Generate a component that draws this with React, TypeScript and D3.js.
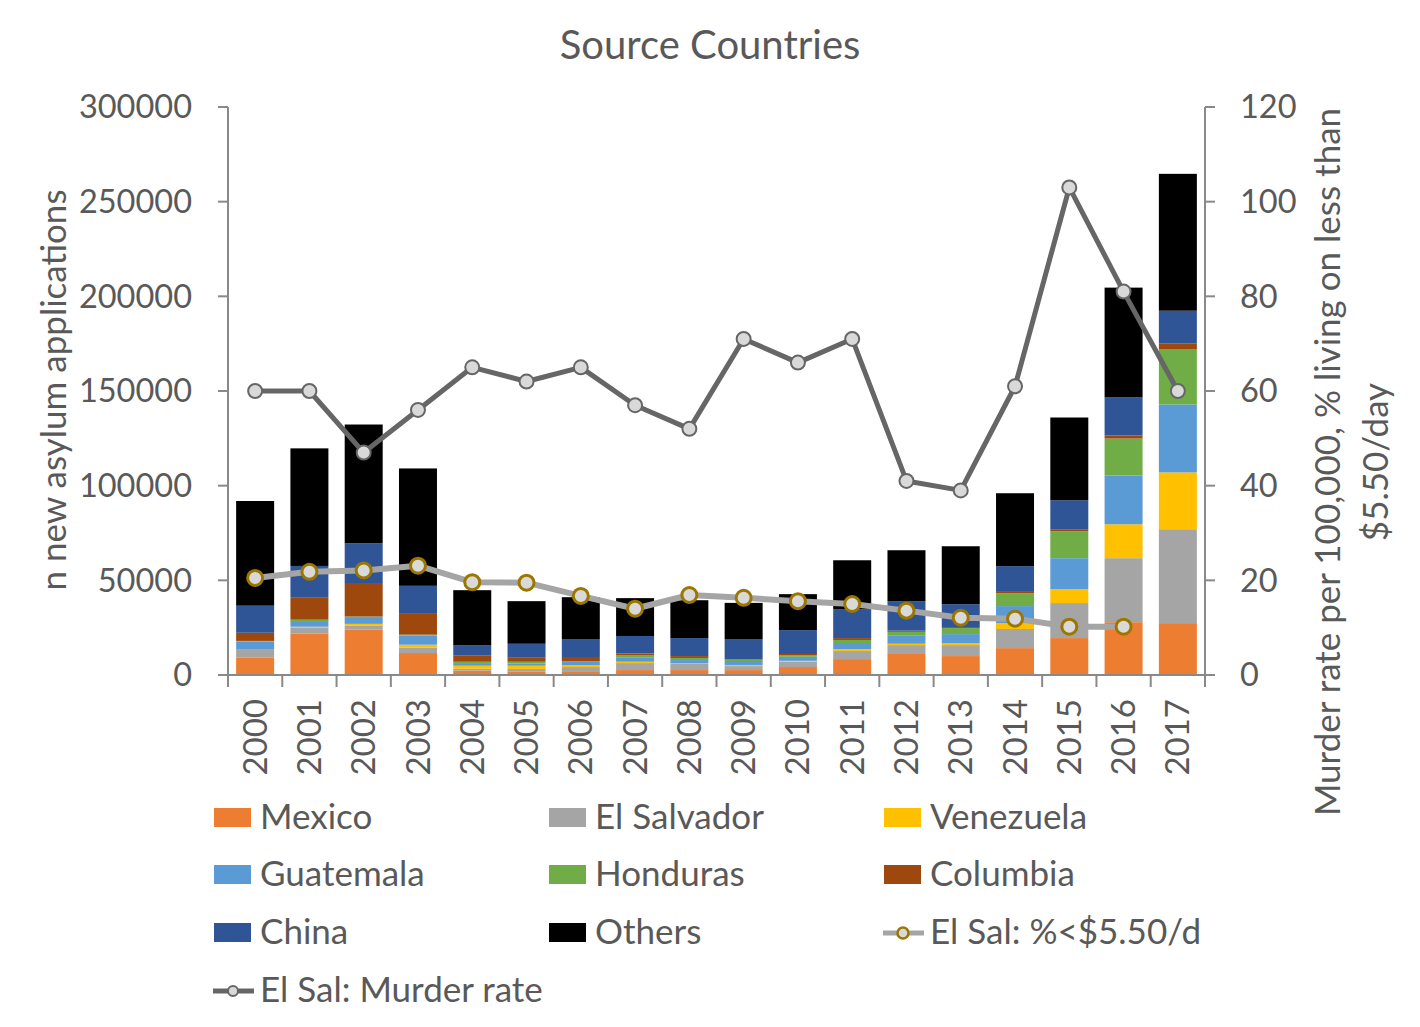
import React from "react";
import * as d3 from "d3";

const years = ["2000","2001","2002","2003","2004","2005","2006","2007","2008","2009","2010","2011","2012","2013","2014","2015","2016","2017"];

const mexico =     [9100,21800,23900,11600,2300,1700,1600,2600,2600,2600,4200,8400,11100,10000,14200,19500,27900,27400];
const elSalvador = [4600,3100,2300,2800,1000,1500,2600,3700,3200,2100,2800,4300,4700,5800,10100,18500,33800,49600];
const venezuela =  [0,600,800,1600,1600,1700,900,700,500,600,500,1000,700,1100,3100,7300,17900,30000];
const guatemala =  [4000,3000,3600,4900,1400,1100,1800,2100,1600,2100,2100,3200,4200,4700,9000,16400,25800,35900];
const honduras =   [300,700,300,400,700,1000,500,1400,1100,700,900,1600,2100,3200,6800,14200,19500,29000];
const columbia =   [4300,11600,17200,11400,3200,2100,2100,900,1000,300,600,1000,600,500,700,1100,1600,3100];
const china =      [14300,16800,21500,14400,5600,7400,9500,9200,9500,10600,12600,15300,15600,12100,13600,15300,20100,17400];
const others =     [55300,62100,62700,62000,29000,22500,22100,20000,20000,19100,19000,25800,26900,30600,38500,43700,58000,72300];

const povertyRate: (number | null)[] = [20.5,21.8,22.1,23.1,19.6,19.5,16.7,14.0,16.9,16.3,15.6,15.0,13.6,12.1,11.9,10.2,10.2,null];
const murderRate = [60,60,47,56,65,62,65,57,52,71,66,71,41,39,61,103,81,60];

const leftTicks = [0,50000,100000,150000,200000,250000,300000];
const rightTicks = [0,20,40,60,80,100,120];

const seriesNames = ["Mexico","El Salvador","Venezuela","Guatemala","Honduras","Columbia","China","Others"];
const seriesData = [mexico, elSalvador, venezuela, guatemala, honduras, columbia, china, others];
const seriesColors = ["#ED7D31","#A5A5A5","#FFC000","#5B9BD5","#70AD47","#9E480E","#2F5597","#000000"];

const FONT = "Lato, 'Open Sans', sans-serif";
const TEXT = "#595959";
const AXIS = "#898989";

export default function App() {
  const W = 1420, H = 1027;
  const left = 228, right = 1205, top = 107, bottom = 675;

  const x = d3.scaleBand<string>().domain(years).range([left, right]).paddingInner(0.3).paddingOuter(0.15);
  const xOuter = d3.scaleBand<string>().domain(years).range([left, right]);
  const y = d3.scaleLinear().domain([0, 300000]).range([bottom, top]);
  const y2 = d3.scaleLinear().domain([0, 120]).range([bottom, top]);

  const table = years.map((yr, i) => {
    const row: any = { year: yr };
    seriesNames.forEach((n, k) => (row[n] = seriesData[k][i]));
    return row;
  });
  const stacked = d3.stack<any>().keys(seriesNames)(table);

  const cx = (yr: string) => (xOuter(yr) as number) + xOuter.bandwidth() / 2;

  const murderLine = d3.line<number>().x((_, i) => cx(years[i])).y((d) => y2(d));
  const povLine = d3
    .line<number | null>()
    .defined((d) => d !== null)
    .x((_, i) => cx(years[i]))
    .y((d) => y2(d as number));

  const legendCols = [214, 549, 884];
  const legendRows = [817, 874, 932, 990];
  const legendItems = [
    ...seriesNames.map((n, k) => ({ name: n, type: "rect", color: seriesColors[k] })),
    { name: "El Sal: %<$5.50/d", type: "pov", color: "" },
    { name: "El Sal: Murder rate", type: "murder", color: "" },
  ];

  return (
    <svg width={W} height={H} style={{ position: "absolute", left: 0, top: 0, background: "#fff" }} fontFamily={FONT}>
      <rect width={W} height={H} fill="#fff" />
      <text x={710} y={59} textAnchor="middle" fontSize={40} fill={TEXT}>Source Countries</text>

      {stacked.map((s, k) => (
        <g key={k} fill={seriesColors[k]}>
          {s.map((d, i) => (
            <rect
              key={i}
              x={x(years[i])}
              width={x.bandwidth()}
              y={y(d[1])}
              height={Math.max(0, y(d[0]) - y(d[1]))}
            />
          ))}
        </g>
      ))}

      {/* left axis */}
      <line x1={left} x2={left} y1={top} y2={bottom} stroke={AXIS} strokeWidth={2} />
      {leftTicks.map((t) => (
        <g key={t}>
          <line x1={left - 10} x2={left} y1={y(t)} y2={y(t)} stroke={AXIS} strokeWidth={2} />
          <text x={192} y={y(t)} dy="0.35em" textAnchor="end" fontSize={32.5} fill={TEXT}>{t}</text>
        </g>
      ))}
      {/* right axis */}
      <line x1={right} x2={right} y1={top} y2={bottom} stroke={AXIS} strokeWidth={2} />
      {rightTicks.map((t) => (
        <g key={t}>
          <line x1={right} x2={right + 10} y1={y2(t)} y2={y2(t)} stroke={AXIS} strokeWidth={2} />
          <text x={1240} y={y2(t)} dy="0.35em" textAnchor="start" fontSize={32.5} fill={TEXT}>{t}</text>
        </g>
      ))}
      {/* bottom axis */}
      <line x1={left} x2={right} y1={bottom} y2={bottom} stroke={AXIS} strokeWidth={2} />
      {years.map((yr) => (
        <line key={yr} x1={(xOuter(yr) as number) + xOuter.bandwidth()} x2={(xOuter(yr) as number) + xOuter.bandwidth()} y1={bottom} y2={bottom + 12} stroke={AXIS} strokeWidth={2} />
      ))}
      <line x1={left} x2={left} y1={bottom} y2={bottom + 12} stroke={AXIS} strokeWidth={2} />
      {years.map((yr) => (
        <text key={yr} transform={`translate(${cx(yr)},${699}) rotate(-90)`} textAnchor="end" dy="0.35em" fontSize={33} fill={TEXT}>{yr}</text>
      ))}

      {/* axis titles */}
      <text transform={`translate(66,390) rotate(-90)`} textAnchor="middle" fontSize={35} fill={TEXT}>n new asylum applications</text>
      <text transform={`translate(1340,462) rotate(-90)`} textAnchor="middle" fontSize={35} fill={TEXT}>Murder rate per 100,000, % living on less than</text>
      <text transform={`translate(1388,462) rotate(-90)`} textAnchor="middle" fontSize={35} fill={TEXT}>$5.50/day</text>

      {/* lines */}
      <path d={povLine(povertyRate) as string} fill="none" stroke="#A5A5A5" strokeWidth={6} strokeLinejoin="round" />
      {povertyRate.map((v, i) =>
        v === null ? null : (
          <circle key={i} cx={cx(years[i])} cy={y2(v)} r={7.5} fill="#D9D9D9" stroke="#9C7700" strokeWidth={3} />
        )
      )}
      <path d={murderLine(murderRate) as string} fill="none" stroke="#666666" strokeWidth={5} strokeLinejoin="round" />
      {murderRate.map((v, i) => (
        <circle key={i} cx={cx(years[i])} cy={y2(v)} r={7} fill="#D9D9D9" stroke="#666666" strokeWidth={2} />
      ))}

      {/* legend */}
      {legendItems.map((it, k) => {
        const lx = legendCols[k % 3];
        const ly = legendRows[Math.floor(k / 3)];
        return (
          <g key={k}>
            {it.type === "rect" && <rect x={lx} y={ly - 9} width={37} height={19} fill={it.color} />}
            {it.type === "pov" && (
              <g>
                <line x1={lx - 1} x2={lx + 40} y1={ly + 1} y2={ly + 1} stroke="#A5A5A5" strokeWidth={5} />
                <circle cx={lx + 19} cy={ly + 1} r={5.5} fill="#D9D9D9" stroke="#9C7700" strokeWidth={2.5} />
              </g>
            )}
            {it.type === "murder" && (
              <g>
                <line x1={lx - 1} x2={lx + 40} y1={ly + 1} y2={ly + 1} stroke="#666666" strokeWidth={5} />
                <circle cx={lx + 19} cy={ly + 1} r={5} fill="#D9D9D9" stroke="#666666" strokeWidth={2} />
              </g>
            )}
            <text x={lx + 46} y={ly} dy="0.35em" fontSize={35} fill={TEXT}>{it.name}</text>
          </g>
        );
      })}
    </svg>
  );
}
